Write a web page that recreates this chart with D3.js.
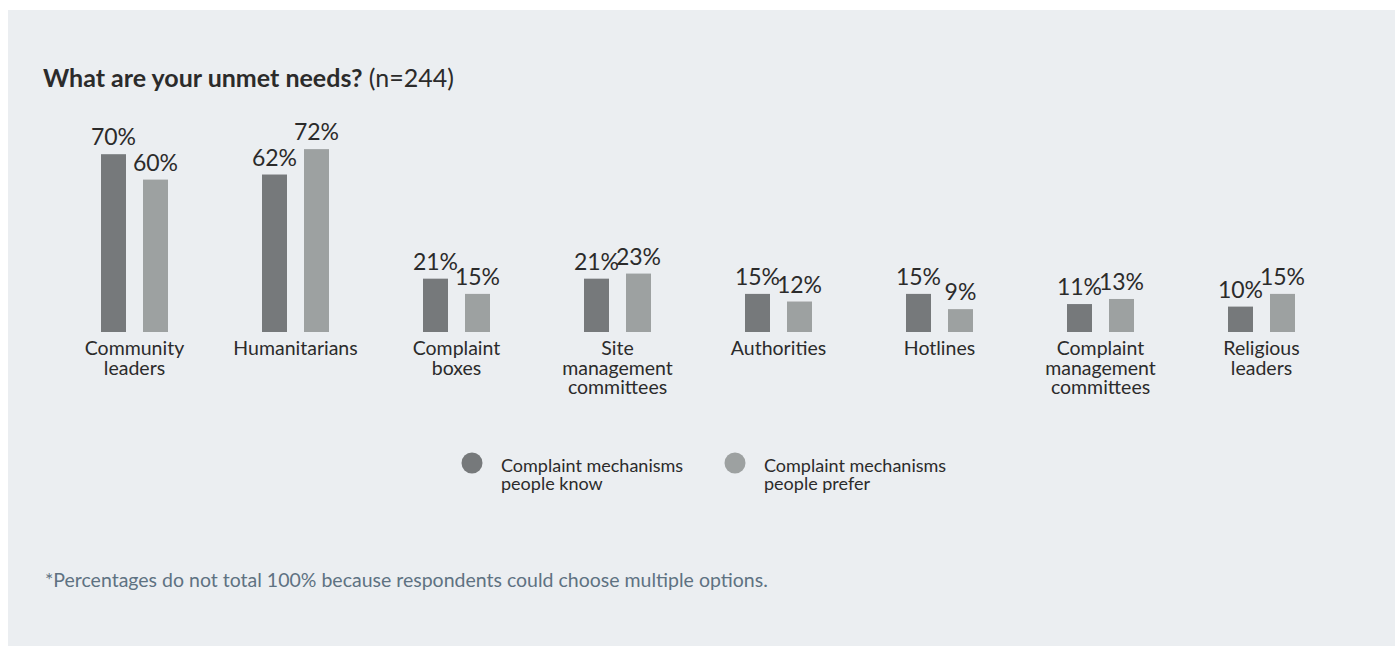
<!DOCTYPE html>
<html>
<head>
<meta charset="utf-8">
<script src="https://cdn.jsdelivr.net/npm/d3@7"></script>
<style>
  body { margin: 0; background: #ffffff; }
  svg text { font-family: Lato, "Noto Sans", sans-serif; }
</style>
</head>
<body>
<svg id="chart" width="1395" height="646"></svg>
<script>
// Data
var categories = [
  ["Community", "leaders"],
  ["Humanitarians"],
  ["Complaint", "boxes"],
  ["Site", "management", "committees"],
  ["Authorities"],
  ["Hotlines"],
  ["Complaint", "management", "committees"],
  ["Religious", "leaders"]
];
var known = [70, 62, 21, 21, 15, 15, 11, 10];
var preferred = [60, 72, 15, 23, 12, 9, 13, 15];
var seriesNames = ["Complaint mechanisms people know", "Complaint mechanisms people prefer"];
var legendLines = [["Complaint mechanisms", "people know"], ["Complaint mechanisms", "people prefer"]];
var colors = ["#76797b", "#9da1a1"];

var svg = d3.select("#chart");

// panel background
svg.append("rect")
  .attr("x", 8).attr("y", 10)
  .attr("width", 1387).attr("height", 636)
  .attr("fill", "#ebeef1");

// title
var title = svg.append("text")
  .attr("x", 43).attr("y", 87)
  .attr("font-size", 25)
  .attr("fill", "#2b2b2b");
title.append("tspan").attr("font-weight", "bold").text("What are your unmet needs?");
title.append("tspan").text(" (n=244)");

// scales
var keys = categories.map(function(c) { return c.join(" "); });
var x0 = d3.scaleBand().domain(keys).range([54, 54 + 161 * 8]);
var x1 = d3.scaleBand().domain([0, 1]).range([0, 67]).paddingInner(17 / 42);
var y = d3.scaleLinear().domain([0, 100]).range([332, 78]);

var rows = categories.map(function(c, i) {
  return { key: keys[i], lines: c, values: [known[i], preferred[i]] };
});

var groups = svg.selectAll("g.group")
  .data(rows)
  .enter().append("g")
  .attr("class", "group")
  .attr("transform", function(d) {
    return "translate(" + (x0(d.key) + x0.bandwidth() / 2 - 33.5) + ",0)";
  });

// bars
groups.selectAll("rect")
  .data(function(d) { return d.values; })
  .enter().append("rect")
  .attr("x", function(d, i) { return x1(i); })
  .attr("y", function(d) { return y(d); })
  .attr("width", x1.bandwidth())
  .attr("height", function(d) { return y(0) - y(d); })
  .attr("fill", function(d, i) { return colors[i]; });

// value labels
groups.selectAll("text.value")
  .data(function(d) { return d.values; })
  .enter().append("text")
  .attr("class", "value")
  .attr("x", function(d, i) { return x1(i) + x1.bandwidth() / 2; })
  .attr("y", function(d) { return y(d) - 9; })
  .attr("text-anchor", "middle")
  .attr("font-size", 23)
  .attr("fill", "#2b2b2b")
  .text(function(d) { return d + "%"; });

// category labels
groups.append("text")
  .attr("class", "cat")
  .attr("text-anchor", "middle")
  .attr("font-size", 19.5)
  .attr("fill", "#2b2b2b")
  .selectAll("tspan")
  .data(function(d) { return d.lines; })
  .enter().append("tspan")
  .attr("x", 33.5)
  .attr("y", function(d, i) { return 355 + i * 19.5; })
  .text(function(d) { return d; });

// legend
var legend = svg.selectAll("g.legend")
  .data(seriesNames)
  .enter().append("g")
  .attr("class", "legend")
  .attr("transform", function(d, i) { return "translate(" + (472 + i * 263) + ",463)"; });

legend.append("circle")
  .attr("r", 10.5)
  .attr("fill", function(d, i) { return colors[i]; });

legend.append("text")
  .attr("font-size", 18)
  .attr("fill", "#2b2b2b")
  .selectAll("tspan")
  .data(function(d, i) { return legendLines[i]; })
  .enter().append("tspan")
  .attr("x", 29)
  .attr("y", function(d, i) { return 9 + i * 18; })
  .text(function(d) { return d; });

// footnote
svg.append("text")
  .attr("x", 45).attr("y", 587)
  .attr("font-size", 19.5)
  .attr("fill", "#5e7282")
  .text("*Percentages do not total 100% because respondents could choose multiple options.");
</script>
</body>
</html>
